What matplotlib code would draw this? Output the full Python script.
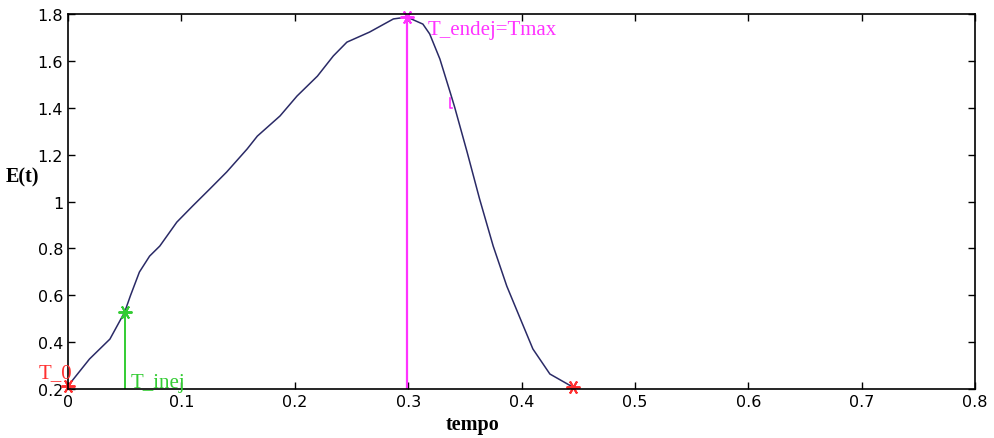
import matplotlib.pyplot as plt

# curve E(t)
t = [0.0, 0.019, 0.037, 0.050, 0.055, 0.063, 0.072, 0.081, 0.096, 0.110,
     0.125, 0.140, 0.158, 0.167, 0.187, 0.202, 0.220, 0.234, 0.246, 0.266,
     0.287, 0.299, 0.313, 0.319, 0.328, 0.337, 0.341, 0.352, 0.363, 0.375,
     0.387, 0.399, 0.410, 0.425, 0.445]
E = [0.213, 0.328, 0.413, 0.528, 0.597, 0.699, 0.767, 0.810, 0.912, 0.981,
     1.053, 1.126, 1.224, 1.279, 1.365, 1.450, 1.535, 1.621, 1.680, 1.723,
     1.779, 1.787, 1.757, 1.715, 1.608, 1.467, 1.403, 1.211, 1.011, 0.810,
     0.639, 0.499, 0.371, 0.264, 0.209]

t_0, e_0 = 0.0, 0.213
t_inej, e_inej = 0.050, 0.528
t_max, e_max = 0.299, 1.787
t_end, e_end = 0.445, 0.209

xticks = [0, 0.1, 0.2, 0.3, 0.4, 0.5, 0.6, 0.7, 0.8]
xlabels = ['0', '0.1', '0.2', '0.3', '0.4', '0.5', '0.6', '0.7', '0.8']
yticks = [0.2, 0.4, 0.6, 0.8, 1.0, 1.2, 1.4, 1.6, 1.8]
ylabels = ['0.2', '0.4', '0.6', '0.8', '1', '1.2', '1.4', '1.6', '1.8']

red = '#ff3030'
green = '#33cc33'
magenta = '#ff33ff'
navy = '#2a2a66'
star = (6, 2, 90)

fig = plt.figure(figsize=(9.95, 4.39), dpi=100)
ax = fig.add_axes([0.0683, 0.1116, 0.9117, 0.8542])

ax.plot(t, E, color=navy, lw=1.1)

# markers and vertical lines
ax.plot([t_inej, t_inej], [0.2, e_inej], color=green, lw=1.4)
ax.plot([t_max, t_max], [0.2, e_max], color=magenta, lw=1.6)
ax.plot([0.337, 0.337, 0.339], [1.44, 1.40, 1.40], color=magenta, lw=1.2)
ax.plot(t_0, e_0, marker=star, color=red, ms=10, mew=1.4, clip_on=False)
ax.plot(t_inej, e_inej, marker=star, color=green, ms=10, mew=1.4)
ax.plot(t_max, e_max, marker=star, color=magenta, ms=10, mew=1.4, clip_on=False)
ax.plot(t_end, e_end, marker=star, color=red, ms=10, mew=1.4, clip_on=False)

serif = 'Liberation Serif'
ax.text(-0.026, 0.25, 'T_0', color=red, fontsize=15, family=serif)
ax.text(0.055, 0.21, 'T_inej', color=green, fontsize=15, family=serif)
ax.text(0.317, 1.715, 'T_endej=Tmax', color=magenta, fontsize=15, family=serif)

ax.set_xlim(0, 0.8)
ax.set_ylim(0.2, 1.8)
ax.set_xticks(xticks)
ax.set_xticklabels(xlabels, family='DejaVu Sans', fontsize=11.5)
ax.set_yticks(yticks)
ax.set_yticklabels(ylabels, family='DejaVu Sans', fontsize=11.5)
ax.tick_params(direction='in', top=True, right=True, length=5, width=1)
for s in ax.spines.values():
    s.set_linewidth(1.2)

fig.text(0.475, 0.008, 'tempo', family=serif, fontsize=14.5, fontweight='bold',
         ha='center', va='bottom')
fig.text(0.006, 0.595, 'E(t)', family=serif, fontsize=14.5, fontweight='bold',
         ha='left', va='center')

fig.savefig('out.png', dpi=100)
